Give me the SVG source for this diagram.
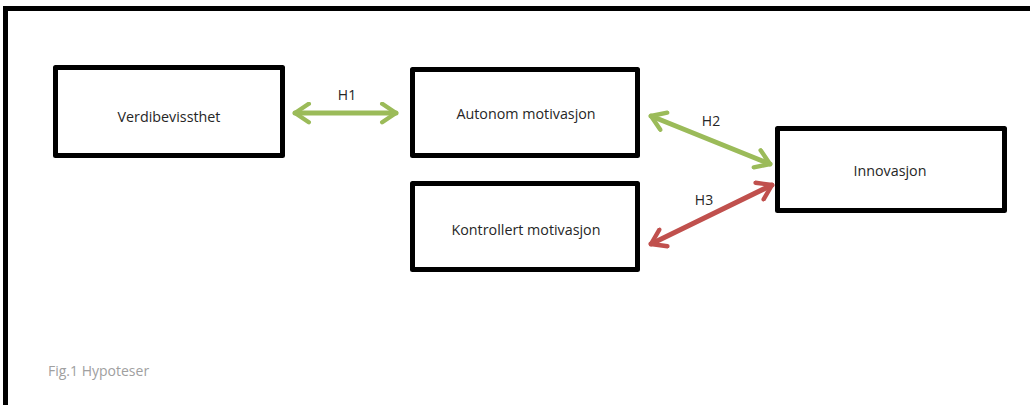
<svg xmlns="http://www.w3.org/2000/svg" width="1030" height="405" viewBox="0 0 1030 405">
<style>
.box{fill:#fff;stroke:#000;stroke-width:5;stroke-linejoin:round}
.lbl{font-family:"Open Sans","Liberation Sans",sans-serif;font-size:14.3px;fill:#262626;text-anchor:middle;dominant-baseline:central}
.h{font-family:"Open Sans","Liberation Sans",sans-serif;font-size:14px;fill:#262626;text-anchor:middle}
.g{stroke:#9BBB59;stroke-width:5;fill:none;stroke-linecap:round;stroke-linejoin:round}
.r{stroke:#C0504D;stroke-width:5;fill:none;stroke-linecap:round;stroke-linejoin:round}
</style>
<defs>
<marker id="mg" viewBox="0 0 10 10" refX="8.5" refY="5" markerWidth="4.6" markerHeight="4.6" orient="auto-start-reverse" markerUnits="strokeWidth">
<polyline points="2.5,1 8.5,5 2.5,9" fill="none" stroke="#9BBB59" stroke-width="1.9" stroke-linecap="round" stroke-linejoin="round"/>
</marker>
<marker id="mr" viewBox="0 0 10 10" refX="8.5" refY="5" markerWidth="4.6" markerHeight="4.6" orient="auto-start-reverse" markerUnits="strokeWidth">
<polyline points="2.5,1 8.5,5 2.5,9" fill="none" stroke="#C0504D" stroke-width="1.9" stroke-linecap="round" stroke-linejoin="round"/>
</marker>
</defs>
<rect width="1030" height="405" fill="#fff"/>
<path d="M5.5,410 L5.5,8.5 L1040,8.5" fill="none" stroke="#000" stroke-width="5"/>
<g id="connectors">
<line class="g" x1="295" y1="113" x2="396" y2="113" marker-start="url(#mg)" marker-end="url(#mg)"/>
<line class="g" x1="651" y1="116" x2="770" y2="164" marker-start="url(#mg)" marker-end="url(#mg)"/>
<line class="r" x1="651" y1="244" x2="772" y2="185" marker-start="url(#mr)" marker-end="url(#mr)"/>
<text class="h" x="347" y="100">H1</text>
<text class="h" x="711" y="126">H2</text>
<text class="h" x="704" y="205">H3</text>
</g>
<g id="verdibevissthet">
<rect class="box" x="55.5" y="67.5" width="227" height="88"/>
<text class="lbl" x="169" y="116">Verdibevissthet</text>
</g>
<g id="autonom">
<rect class="box" x="412.5" y="69.5" width="225" height="86"/>
<text class="lbl" x="526" y="113">Autonom motivasjon</text>
</g>
<g id="kontrollert">
<rect class="box" x="412.5" y="183.5" width="225" height="86"/>
<text class="lbl" x="526" y="229">Kontrollert motivasjon</text>
</g>
<g id="innovasjon">
<rect class="box" x="777.5" y="128.5" width="227" height="82"/>
<text class="lbl" x="890" y="170">Innovasjon</text>
</g>
<text x="48" y="376" font-family="'Open Sans','Liberation Sans',sans-serif" font-size="14" fill="#a0a0a0">Fig.1 Hypoteser</text>
</svg>
